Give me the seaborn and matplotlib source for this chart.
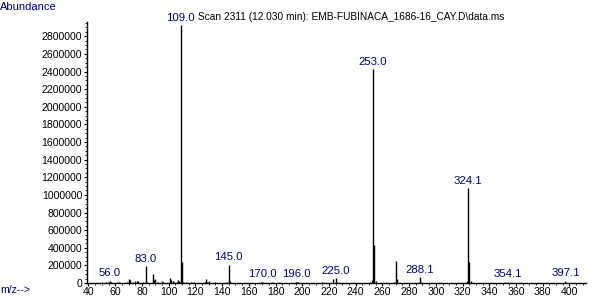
import matplotlib
matplotlib.use("Agg")
import matplotlib.pyplot as plt
import seaborn as sns
from matplotlib.ticker import MultipleLocator, FuncFormatter

# ---- data ----
mz = [50, 53, 55, 56, 57, 61, 63, 69, 70, 71, 73, 75, 76, 77, 81, 83, 84,
      88, 89, 90, 91, 95, 96, 101, 102, 103, 104, 106, 107, 108, 109, 110,
      111, 113, 117, 119, 127, 128, 129, 130, 135, 144, 145, 146, 157, 169,
      170, 171, 177, 195, 196, 197, 208, 215, 223, 225, 226, 240, 251, 252,
      253, 254, 255, 269, 270, 271, 281, 288, 289, 308, 323, 324, 325, 326,
      350, 352, 354, 356, 397]
abundance = [8000, 10000, 15000, 28000, 12000, 15000, 10000, 15000, 40000,
             30000, 10000, 22000, 18000, 20000, 10000, 190000, 15000,
             105000, 35000, 45000, 12000, 20000, 10000, 55000, 30000, 20000,
             15000, 10000, 35000, 20000, 2925000, 240000,
             15000, 10000, 10000, 8000, 10000, 45000, 15000, 20000, 10000,
             15000, 207000, 20000, 5000, 8000,
             12000, 8000, 6000, 8000, 15000, 10000, 5000, 8000, 40000, 55000,
             15000, 5000, 15000, 30000,
             2423000, 430000, 25000, 15000, 255000, 40000, 5000, 65000, 10000,
             5000, 20000, 1075000, 240000, 25000,
             5000, 6000, 12000, 5000, 25000]
peak_labels = ["56.0", "83.0", "109.0", "145.0", "170.0", "196.0", "225.0",
               "253.0", "288.1", "324.1", "354.1", "397.1"]
x_ticks = list(range(40, 401, 20))
y_ticks = list(range(0, 2800001, 200000))
title = "Scan 2311 (12.030 min): EMB-FUBINACA_1686-16_CAY.D\\data.ms"

# ---- style ----
sns.set_style("ticks")
plt.rcParams["font.family"] = ["Liberation Sans", "DejaVu Sans"]
navy = "#000080"

fig = plt.figure(figsize=(6.0, 2.98), dpi=100)
W, H = 600, 298
ax = fig.add_axes([87 / W, (H - 283) / H, (586 - 87) / W, (283 - 22) / H])

ax.vlines(mz, 0, abundance, colors="black", linewidth=1.0)

lookup = dict(zip(mz, abundance))
for lab in peak_labels:
    m = round(float(lab))
    ax.annotate(lab, xy=(m, lookup[m]), xytext=(0, 1.8),
                textcoords="offset points", ha="center", va="bottom",
                color=navy, fontsize=8.2, zorder=5)

ax.set_xlim(38.9, 412.4)
ax.set_ylim(0, 2962000)
ax.set_xticks(x_ticks)
ax.set_yticks(y_ticks)
ax.xaxis.set_minor_locator(MultipleLocator(5))
ax.yaxis.set_minor_locator(MultipleLocator(50000))
ax.yaxis.set_major_formatter(FuncFormatter(lambda v, p: f"{int(v)}"))
ax.tick_params(axis="both", which="major", labelsize=7.6, colors="black",
               width=0.8)
ax.tick_params(axis="y", which="major", length=2.5, pad=1)
ax.tick_params(axis="x", which="major", length=2.5, pad=0.5)
ax.tick_params(axis="both", which="minor", length=1.3, width=0.7)
for s in ("top", "right"):
    ax.spines[s].set_visible(False)
for s in ("left", "bottom"):
    ax.spines[s].set_linewidth(1.0)
    ax.spines[s].set_color("black")
ax.set_xlabel("")
ax.set_ylabel("")

fig.text(198 / W, 1 - 20 / H, title, ha="left", va="baseline",
         fontsize=7.3, color="black", zorder=1)
fig.text(0.0, 1 - 2 / H, "Abundance", ha="left", va="top",
         fontsize=8, color=navy)
fig.text(0.0, 1 - 290 / H, "m/z-->", ha="left", va="center",
         fontsize=7.6, color=navy)

fig.savefig("out.png", dpi=100, facecolor="white")
